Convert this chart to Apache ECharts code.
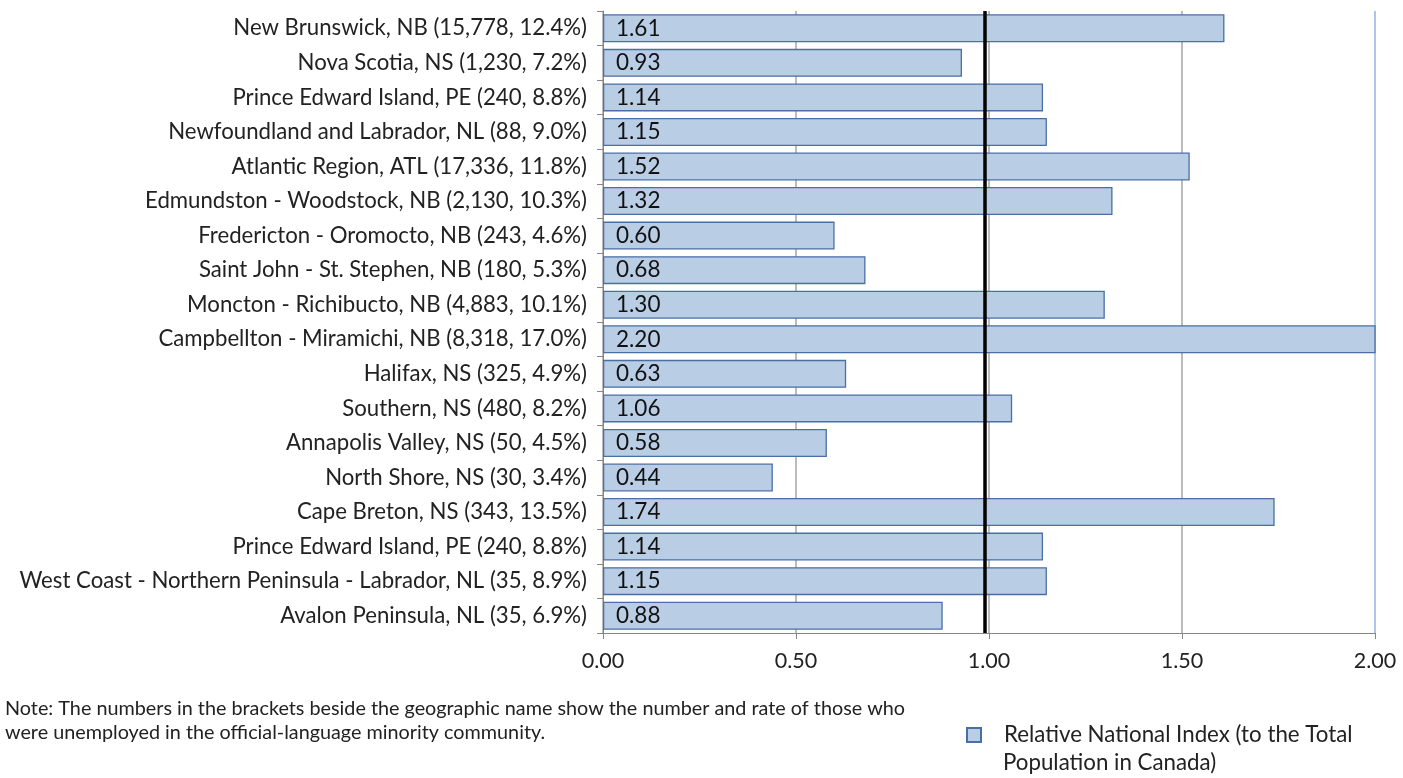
<!DOCTYPE html>
<html><head><meta charset="utf-8">
<script src="https://cdn.jsdelivr.net/npm/echarts@6/dist/echarts.min.js"></script>
<style>html,body{margin:0;padding:0;background:#fff}#c{width:1403px;height:778px}</style>
</head><body><div id="c"></div>
<script>
const categories = [
  "New Brunswick, NB (15,778, 12.4%)",
  "Nova Scotia, NS (1,230, 7.2%)",
  "Prince Edward Island, PE (240, 8.8%)",
  "Newfoundland and Labrador, NL (88, 9.0%)",
  "Atlantic Region, ATL (17,336, 11.8%)",
  "Edmundston - Woodstock, NB (2,130, 10.3%)",
  "Fredericton - Oromocto, NB (243, 4.6%)",
  "Saint John - St. Stephen, NB (180, 5.3%)",
  "Moncton - Richibucto, NB (4,883, 10.1%)",
  "Campbellton - Miramichi, NB (8,318, 17.0%)",
  "Halifax, NS (325, 4.9%)",
  "Southern, NS (480, 8.2%)",
  "Annapolis Valley, NS (50, 4.5%)",
  "North Shore, NS (30, 3.4%)",
  "Cape Breton, NS (343, 13.5%)",
  "Prince Edward Island, PE (240, 8.8%)",
  "West Coast - Northern Peninsula - Labrador, NL (35, 8.9%)",
  "Avalon Peninsula, NL (35, 6.9%)"
];
const indexValues = [1.61, 0.93, 1.14, 1.15, 1.52, 1.32, 0.60, 0.68, 1.30, 2.20, 0.63, 1.06, 0.58, 0.44, 1.74, 1.14, 1.15, 0.88];
const referenceValue = 0.99;
const xTicks = [0, 0.5, 1, 1.5, 2];
const seriesName = "Relative National Index (to the Total Population in Canada)";
const legendLine1 = "Relative National Index (to the Total";
const legendLine2 = "Population in Canada)";
const noteText = "Note: The numbers in the brackets beside the geographic name show the number and rate of those who\nwere unemployed in the official-language minority community.";

const FONT = "Lato";
const chart = echarts.init(document.getElementById('c'), null, {renderer: 'canvas'});
chart.setOption({
  animation: false,
  textStyle: {fontFamily: FONT},
  grid: {left: 603, right: 28, top: 11, bottom: 145, containLabel: false},
  xAxis: {
    type: 'value', min: xTicks[0], max: xTicks[xTicks.length - 1], interval: 0.5,
    axisLine: {show: true, lineStyle: {color: '#868686', width: 1}},
    axisTick: {show: true, length: 6, lineStyle: {color: '#868686'}},
    axisLabel: {fontFamily: FONT, fontSize: 21.5, color: '#222', margin: 17,
      formatter: v => v.toFixed(2)},
    splitLine: {show: true, lineStyle: {color: ['#A6A6A6', '#A6A6A6', '#A6A6A6', '#A6A6A6', '#8EB4E3'], width: 1.5}}
  },
  yAxis: {
    type: 'category', inverse: true, data: categories,
    axisLine: {show: true, lineStyle: {color: '#868686', width: 1}},
    axisTick: {show: true, length: 6, alignWithLabel: false, lineStyle: {color: '#868686'}},
    axisLabel: {fontFamily: FONT, fontSize: 22.2, color: '#222', margin: 16, interval: 0}
  },
  legend: {
    show: true, left: 961, top: 719, orient: 'vertical',
    itemWidth: 14, itemHeight: 14, itemGap: 8,
    formatter: () => legendLine1,
    textStyle: {fontFamily: FONT, fontSize: 22.3, color: '#222', padding: [0, 0, 0, 18]},
    data: [{name: seriesName, icon: 'rect'}]
  },
  graphic: [{
    type: 'text', left: 5, top: 697,
    style: {text: noteText, fontFamily: FONT, fontSize: 19.8, fill: '#222', lineHeight: 24}
  }, {
    type: 'text', left: 1003, top: 752,
    style: {text: legendLine2, fontFamily: FONT, fontSize: 22.3, fill: '#222'}
  }],
  series: [{
    name: seriesName, type: 'bar', data: indexValues, barCategoryGap: '19%',
    itemStyle: {color: '#B9CDE5', borderColor: '#4A6FA5', borderWidth: 1.3},
    label: {show: true, position: 'insideLeft', distance: 13, fontFamily: FONT, fontSize: 22.5, color: '#111',
      formatter: p => p.value.toFixed(2)},
    markLine: {
      silent: true, symbol: 'none', label: {show: false},
      lineStyle: {color: '#000', width: 3.5, type: 'solid'},
      data: [{xAxis: referenceValue}]
    }
  }]
});
</script></body></html>
